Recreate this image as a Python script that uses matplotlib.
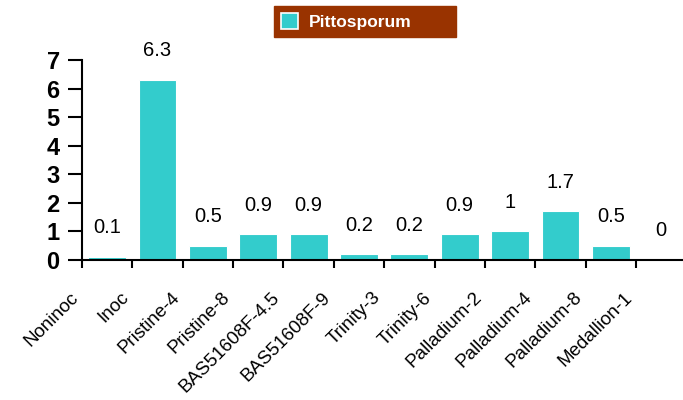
import numpy as np
import matplotlib.pyplot as plt
import matplotlib.transforms as mtransforms

plt.rcParams['font.family'] = ['Liberation Sans', 'DejaVu Sans']

# data
categories = ['Noninoc', 'Inoc', 'Pristine-4', 'Pristine-8', 'BAS51608F-4.5',
              'BAS51608F-9', 'Trinity-3', 'Trinity-6', 'Palladium-2',
              'Palladium-4', 'Palladium-8', 'Medallion-1']
values = [0.1, 6.3, 0.5, 0.9, 0.9, 0.2, 0.2, 0.9, 1, 1.7, 0.5, 0]
value_labels = ['0.1', '6.3', '0.5', '0.9', '0.9', '0.2', '0.2', '0.9', '1', '1.7', '0.5', '0']
series_name = 'Pittosporum'

fig = plt.figure(figsize=(6.83, 4.0), dpi=100)
ax = fig.add_axes([0.12, 0.35, 0.885, 0.50])

x = np.arange(len(categories))
bars = ax.bar(x, values, width=0.75, color='#33CCCC', edgecolor='white',
              linewidth=0.8, label=series_name, zorder=2)

for xi, v, lab in zip(x, values, value_labels):
    ax.annotate(lab, (xi, v), xytext=(0, 21), textcoords='offset points',
                ha='center', va='center', fontsize=14.5, color='black')

ax.set_yticks(range(0, 8))
ax.set_yticklabels([str(i) for i in range(0, 8)], fontsize=17, fontweight='bold')

# category labels sit on the left edge tick of each slot
ax.set_xticks(x - 0.5)
ax.set_xticklabels(categories, rotation=45, ha='right', rotation_mode='anchor',
                   fontsize=13.5)
ax.set_xlim(-0.5, len(categories) - 0.5)
ax.set_ylim(0, 7)

for s in ['top', 'right']:
    ax.spines[s].set_visible(False)
ax.spines['left'].set_linewidth(1.5)
ax.spines['bottom'].set_linewidth(1.5)
ax.tick_params(axis='y', direction='out', length=10, width=1.5, pad=6)
ax.tick_params(axis='x', direction='out', length=6, width=1.5, pad=15)

# nudge labels left, must come after tick_params (it resets the transforms)
shift = mtransforms.ScaledTranslation(-12 / 100, 0, fig.dpi_scale_trans)
for lbl in ax.get_xticklabels():
    lbl.set_transform(lbl.get_transform() + shift)

leg = fig.legend(handles=[bars], labels=[series_name], loc='center',
                 bbox_to_anchor=(265 / 683, 1 - 37 / 400, 200 / 683, 31 / 400),
                 mode='expand', frameon=True, fancybox=False,
                 facecolor='#993300', edgecolor='#993300', framealpha=1,
                 handlelength=1.0, handleheight=1.0, handletextpad=0.6,
                 borderpad=0.4, prop={'weight': 'bold', 'size': 12.5})
for t in leg.get_texts():
    t.set_color('white')
leg.legend_handles[0].set_edgecolor('white')
leg.legend_handles[0].set_linewidth(1.2)

fig.savefig('out.png', dpi=100)
